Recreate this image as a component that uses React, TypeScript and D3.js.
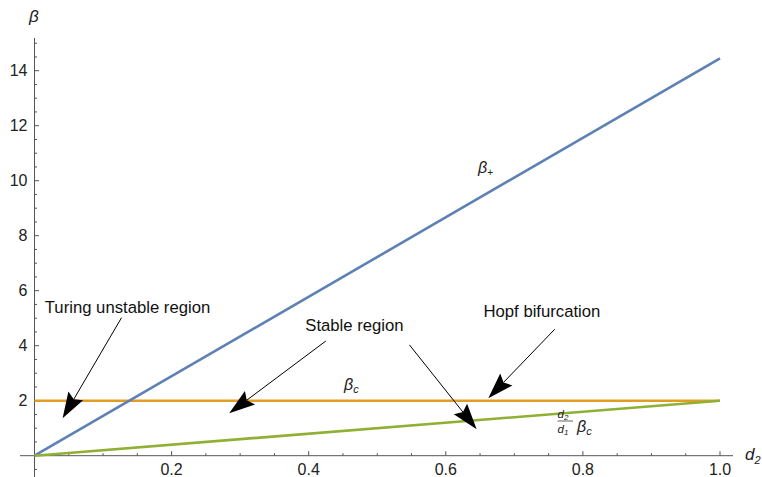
import React from "react";
import * as d3 from "d3";

// ---- data ----
const d2Values = [0, 1];
const betaPlus = [0, 14.45];
const betaC = [2, 2];
const betaCScaled = [0, 2]; // (d2/d1) * beta_c
const xMajorTicks = [0.2, 0.4, 0.6, 0.8, 1.0];
const xTickLabels = ["0.2", "0.4", "0.6", "0.8", "1.0"];
const yMajorTicks = [2, 4, 6, 8, 10, 12, 14];
const yTickLabels = ["2", "4", "6", "8", "10", "12", "14"];

// annotation texts and arrows (data coordinates)
const annotationTexts = ["Turing unstable region", "Stable region", "Hopf bifurcation"];
const annotationAnchors = [
  [0.015, 5.2],
  [0.395, 4.55],
  [0.655, 5.05],
];
const arrowFrom = [
  [0.127, 5.02],
  [0.425, 4.17],
  [0.547, 4.03],
  [0.759, 4.6],
];
const arrowTo = [
  [0.041, 1.36],
  [0.284, 1.54],
  [0.645, 0.96],
  [0.662, 2.09],
];

const W = 762;
const H = 477;
const BLUE = "#5E81B5";
const ORANGE = "#E19C24";
const GREEN = "#8FB032";
const AXIS = "#555";
const FONT = "'Liberation Sans', Arial, sans-serif";

export default function App() {
  const x = d3.scaleLinear().domain([0, 1]).range([34.5, 720]);
  const y = d3.scaleLinear().domain([0, 14]).range([455.7, 70.7]);

  const line = d3
    .line<[number, number]>()
    .x((d) => x(d[0]))
    .y((d) => y(d[1]));

  const series = [
    { vals: betaC, color: ORANGE },
    { vals: betaPlus, color: BLUE },
    { vals: betaCScaled, color: GREEN },
  ];

  const xMinor = d3.range(1, 21).map((i) => i * 0.05).filter((v) => !xMajorTicks.some((m) => Math.abs(m - v) < 1e-6));
  const yMinor = d3.range(-1, 31).map((i) => i * 0.5).filter((v) => !yMajorTicks.some((m) => Math.abs(m - v) < 1e-6) && v !== 0);

  const x0 = x(0);
  const y0 = y(0);

  const arrows = arrowFrom.map((f, i) => {
    const t = arrowTo[i];
    const fx = x(f[0]), fy = y(f[1]);
    const tx = x(t[0]), ty = y(t[1]);
    const dx = tx - fx, dy = ty - fy;
    const len = Math.hypot(dx, dy);
    const ux = dx / len, uy = dy / len;
    const nx = -uy, ny = ux;
    const L = 26, HW = 8.5;
    const bx = tx - ux * L, by = ty - uy * L;
    const nbx = tx - ux * (L - 4), nby = ty - uy * (L - 4);
    const pts = [
      [tx, ty],
      [bx + nx * HW, by + ny * HW],
      [nbx, nby],
      [bx - nx * HW, by - ny * HW],
    ];
    return { fx, fy, ex: nbx, ey: nby, pts };
  });

  return (
    <svg
      width={W}
      height={H}
      style={{ position: "absolute", left: 0, top: 0, background: "#fff" }}
      fontFamily={FONT}
    >
      {/* axes */}
      <line x1={20} x2={733} y1={y0} y2={y0} stroke={AXIS} strokeWidth={1} />
      <line x1={x0} x2={x0} y1={38} y2={H} stroke={AXIS} strokeWidth={1} />
      {xMajorTicks.map((v, i) => (
        <g key={"xt" + i}>
          <line x1={x(v)} x2={x(v)} y1={y0} y2={y0 - 4.5} stroke={AXIS} />
          <text x={x(v)} y={y0 + 19} textAnchor="middle" fontSize={16} fill="#222">
            {xTickLabels[i]}
          </text>
        </g>
      ))}
      {xMinor.map((v, i) => (
        <line key={"xm" + i} x1={x(v)} x2={x(v)} y1={y0} y2={y0 - 2.5} stroke={AXIS} />
      ))}
      {yMajorTicks.map((v, i) => (
        <g key={"yt" + i}>
          <line x1={x0} x2={x0 + 4.5} y1={y(v)} y2={y(v)} stroke={AXIS} />
          <text x={x0 - 7} y={y(v) + 5.7} textAnchor="end" fontSize={16} fill="#222">
            {yTickLabels[i]}
          </text>
        </g>
      ))}
      {yMinor.map((v, i) => (
        <line key={"ym" + i} x1={x0} x2={x0 + 2.5} y1={y(v)} y2={y(v)} stroke={AXIS} />
      ))}

      {/* axis labels */}
      <text x={29} y={22} fontSize={17} fontStyle="italic" fill="#222">β</text>
      <text x={745} y={460} fontSize={17} fontStyle="italic" fill="#222">
        d<tspan fontSize={11} dy={4}>2</tspan>
      </text>

      {/* curves */}
      {series.map((s, i) => (
        <path
          key={"s" + i}
          d={line(d2Values.map((d, j) => [d, s.vals[j]] as [number, number])) || ""}
          fill="none"
          stroke={s.color}
          strokeWidth={2.6}
        />
      ))}

      {/* curve labels */}
      <text x={478} y={173} fontSize={16} fontStyle="italic" fill="#222">
        β<tspan fontSize={10} dy={3} fontStyle="normal">+</tspan>
      </text>
      <text x={344} y={390} fontSize={16} fontStyle="italic" fill="#222">
        β<tspan fontSize={11} dy={3}>c</tspan>
      </text>
      <g fill="#222" fontStyle="italic">
        <text x={557.5} y={418} fontSize={11.5}>
          d<tspan fontSize={8} dy={2}>2</tspan>
        </text>
        <line x1={557.5} x2={573} y1={421} y2={421} stroke="#222" strokeWidth={0.7} />
        <text x={557.5} y={433} fontSize={11.5}>
          d<tspan fontSize={8} dy={2}>1</tspan>
        </text>
        <text x={577} y={432} fontSize={16}>
          β<tspan fontSize={11} dy={3}>c</tspan>
        </text>
      </g>

      {/* annotations */}
      {annotationTexts.map((t, i) => (
        <text
          key={"a" + i}
          x={x(annotationAnchors[i][0])}
          y={y(annotationAnchors[i][1])}
          fontSize={16.7}
          fill="#111"
        >
          {t}
        </text>
      ))}
      {arrows.map((a, i) => (
        <g key={"ar" + i}>
          <line x1={a.fx} y1={a.fy} x2={a.ex} y2={a.ey} stroke="#000" strokeWidth={1} />
          <polygon points={a.pts.map((p) => p.join(",")).join(" ")} fill="#000" />
        </g>
      ))}
    </svg>
  );
}
